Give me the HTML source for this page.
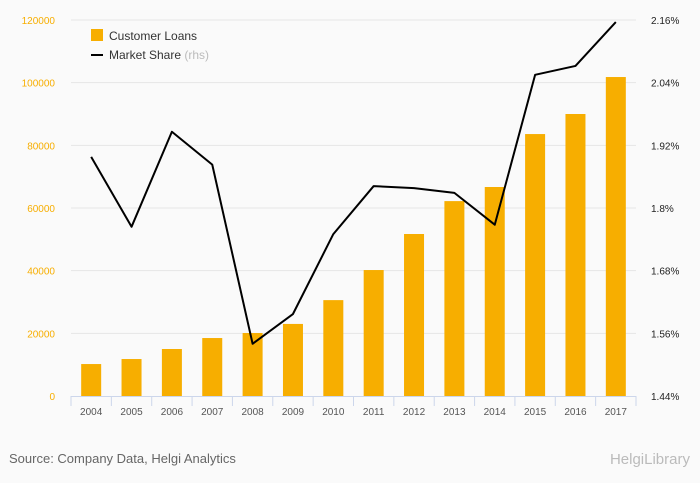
<!DOCTYPE html>
<html><head><meta charset="utf-8"><style>
body{margin:0;background:#fafafa;}
svg{display:block;font-family:"Liberation Sans",sans-serif;}
</style></head><body>
<svg id="chart" width="700" height="483" viewBox="0 0 700 483">
<rect width="700" height="483" fill="#fafafa"/>
<g id="grid"></g><g id="bars"></g><g id="axes"></g><g id="line"></g>
<g>
<rect x="91" y="29" width="12" height="12" fill="#f7ae00"/>
<text x="109" y="40" font-size="12" fill="#333">Customer Loans</text>
<line x1="91" y1="55" x2="103" y2="55" stroke="#000" stroke-width="2"/>
<text x="109" y="59" font-size="12" fill="#333">Market Share <tspan fill="#bbb">(rhs)</tspan></text>
</g>
<text x="9" y="463" font-size="13" fill="#666">Source: Company Data, Helgi Analytics</text>
<text x="690" y="464" font-size="15" fill="#bbb" text-anchor="end">HelgiLibrary</text>
</svg>
<script>
const categories=["2004","2005","2006","2007","2008","2009","2010","2011","2012","2013","2014","2015","2016","2017"];
const loans=[10200,11800,15000,18500,20100,23000,30600,40200,51700,62200,66700,83600,90000,101800];
const share=[1.898,1.764,1.946,1.883,1.540,1.597,1.750,1.842,1.838,1.829,1.768,2.055,2.072,2.156];
const leftTicks=[0,20000,40000,60000,80000,100000,120000];
const rightTicks=[1.44,1.56,1.68,1.8,1.92,2.04,2.16];
const rightLabels=["1.44%","1.56%","1.68%","1.8%","1.92%","2.04%","2.16%"];
const NS="http://www.w3.org/2000/svg";
const X0=71,X1=636,Y0=396,Y1=20;
const bw=(X1-X0)/categories.length;
const xc=i=>X0+bw*(i+0.5);
const yl=v=>Y0-(v/120000)*(Y0-Y1);
const yr=v=>Y0-((v-1.44)/0.72)*(Y0-Y1);
function mk(tag,attrs,parent,txt){const e=document.createElementNS(NS,tag);for(const k in attrs)e.setAttribute(k,attrs[k]);if(txt!==undefined)e.textContent=txt;document.getElementById(parent).appendChild(e);return e;}
leftTicks.forEach((t,i)=>{
  if(t>0){const g=mk('line',{x1:X0,x2:X1,y1:yl(t),y2:yl(t),stroke:'#e6e6e6','stroke-width':1},'grid');
  
  }
  const l=mk('text',{x:55,y:yl(t)+4,'font-size':10,fill:'#f7ae00','text-anchor':'end'},'axes',String(t));
  
  
});
rightTicks.forEach((t,i)=>{
  const l=mk('text',{x:651,y:yr(t)+4,'font-size':10,fill:'#222'},'axes',rightLabels[i]);
  
  
});
loans.forEach((v,i)=>{
  const b=mk('rect',{x:xc(i)-10,y:yl(v),width:20,height:Y0-yl(v),fill:'#f7ae00'},'bars');
  
  
});
const ax=mk('line',{x1:X0,x2:X1,y1:Y0+0.5,y2:Y0+0.5,stroke:'#ccd6eb'},'axes');


for(let i=0;i<=categories.length;i++){
  const t=mk('line',{x1:X0+bw*i,x2:X0+bw*i,y1:Y0,y2:Y0+10,stroke:'#ccd6eb'},'axes');
  
  
}
categories.forEach((c,i)=>{
  const l=mk('text',{x:xc(i),y:415,'font-size':10,fill:'#555','text-anchor':'middle'},'axes',c);
  
  
});
const p=mk('polyline',{points:share.map((v,i)=>xc(i)+','+yr(v)).join(' '),fill:'none',stroke:'#000','stroke-width':2,'stroke-linejoin':'round'},'line');


</script>
</body></html>
